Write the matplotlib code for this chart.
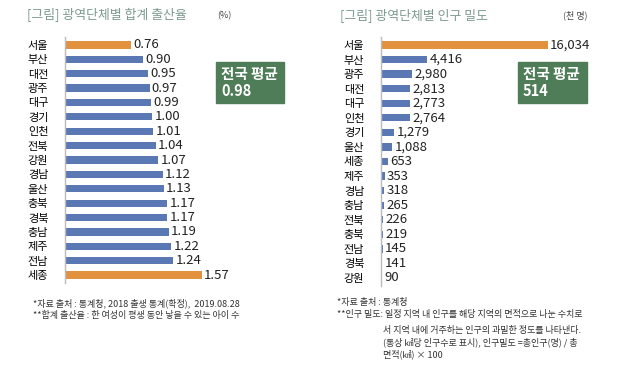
import matplotlib.pyplot as plt

plt.rcParams['font.family'] = ['Noto Sans CJK KR', 'DejaVu Sans']

# --- DADOS ---
regioes_tfr = ['서울', '부산', '대전', '광주', '대구', '경기', '인천', '전북', '강원',
               '경남', '울산', '충북', '경북', '충남', '제주', '전남', '세종']
valores_tfr = [0.76, 0.90, 0.95, 0.97, 0.99, 1.00, 1.01, 1.04, 1.07,
               1.12, 1.13, 1.17, 1.17, 1.19, 1.22, 1.24, 1.57]
media_tfr = 0.98

regioes_dens = ['서울', '부산', '광주', '대전', '대구', '인천', '경기', '울산', '세종',
                '제주', '경남', '충남', '전북', '충북', '전남', '경북', '강원']
valores_dens = [16034, 4416, 2980, 2813, 2773, 2764, 1279, 1088, 653,
                353, 318, 265, 226, 219, 145, 141, 90]
media_dens = 514

azul = '#5A78B4'
laranja = '#E2913F'
verde = '#4E7D58'
cor_titulo = '#7C9A8F'

W, H = 640, 365
fig = plt.figure(figsize=(W / 100, H / 100), dpi=100)


def eixo(x0, x1, y0, y1):
    return fig.add_axes([x0 / W, 1 - y1 / H, (x1 - x0) / W, (y1 - y0) / H])


def barras(ax, regioes, valores, xmax, fmt, destaque):
    cores = [laranja if r in destaque else azul for r in regioes]
    y = range(len(regioes))
    ax.barh(y, valores, height=0.5, color=cores)
    ax.set_xlim(0, xmax)
    ax.set_ylim(len(regioes) - 0.45, -0.55)
    ax.set_yticks(list(y))
    ax.set_yticklabels(regioes, fontsize=8)
    ax.tick_params(axis='y', length=0, pad=12)
    ax.set_xticks([])
    for s in ['top', 'right', 'bottom']:
        ax.spines[s].set_visible(False)
    ax.spines['left'].set_color('#BBBBBB')
    ax.spines['left'].set_linewidth(1)
    for i, v in enumerate(valores):
        ax.text(v + xmax * 0.01, i, fmt(v), va='center', ha='left', fontsize=9.5, color='#222222')


ax1 = eixo(65, 290, 37, 283)
barras(ax1, regioes_tfr, valores_tfr, 2.58, lambda v: f'{v:.2f}', ('서울', '세종'))

ax2 = eixo(381, 610, 37, 286)
barras(ax2, regioes_dens, valores_dens, 21990, lambda v: f'{v:,}', ('서울',))

# --- TÍTULOS ---
fig.text(27 / W, 1 - 15 / H, '[그림] 광역단체별 합계 출산율', fontsize=9.3, color=cor_titulo,
         va='center', ha='left')
fig.text(217 / W, 1 - 16 / H, '(%)', fontsize=6.5, color='#444444', va='center', ha='left')
fig.text(340 / W, 1 - 15 / H, '[그림] 광역단체별 인구 밀도', fontsize=9.3, color=cor_titulo,
         va='center', ha='left')
fig.text(563 / W, 1 - 15 / H, '(천 명)', fontsize=6.5, color='#444444', va='center', ha='left')

# --- CAIXAS DE MÉDIA ---
for x0, x1, texto in [(216, 284, f'전국 평균\n{media_tfr:.2f}'), (518, 587, f'전국 평균\n{media_dens}')]:
    fig.patches.append(plt.Rectangle((x0 / W, 1 - 103 / H), (x1 - x0) / W, 41 / H,
                                     transform=fig.transFigure, color=verde, zorder=1))
    fig.text((x0 + 5) / W, 1 - 82.5 / H, texto, fontsize=10.5, color='white', fontweight='bold',
             va='center', ha='left', linespacing=1.05, zorder=2)

# --- NOTAS ---
nota = dict(fontsize=6.5, color='#333333', va='center', ha='left')
fig.text(33 / W, 1 - 303 / H, '*자료 출처 : 통계청, 2018 출생 통계(확정),  2019.08.28', **nota)
fig.text(33 / W, 1 - 315 / H, '**합계 출산율 : 한 여성이 평생 동안 낳을 수 있는 아이 수', **nota)

fig.text(337 / W, 1 - 303 / H, '*자료 출처 : 통계청', **nota)
fig.text(337 / W, 1 - 315 / H, '**인구 밀도: 일정 지역 내 인구를 해당 지역의 면적으로 나눈 수치로', **nota)
fig.text(383 / W, 1 - 331 / H, '서 지역 내에 거주하는 인구의 과밀한 정도를 나타낸다.', **nota)
fig.text(383 / W, 1 - 342 / H, '(통상 ㎢당 인구수로 표시), 인구밀도 =총인구(명) / 총', **nota)
fig.text(383 / W, 1 - 354 / H, '면적(㎢) × 100', **nota)

fig.savefig('out.png', dpi=100)
